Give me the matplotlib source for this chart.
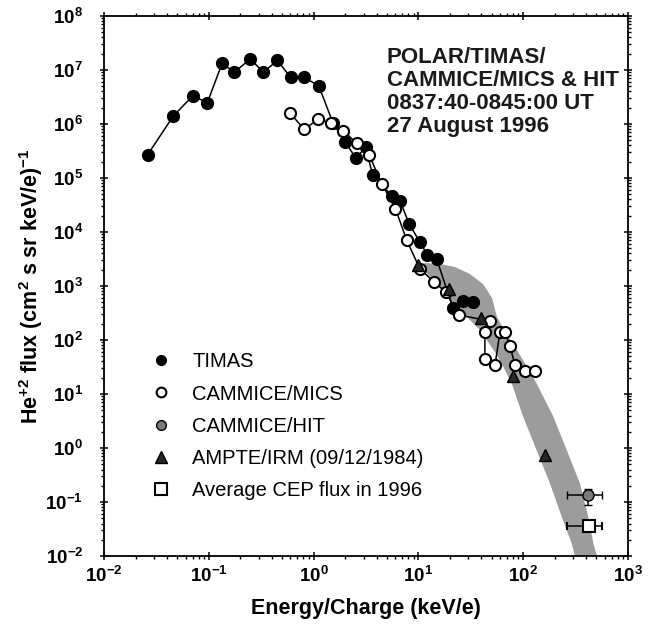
import numpy as np
import matplotlib
matplotlib.use('Agg')
import matplotlib.pyplot as plt
from matplotlib.ticker import LogLocator, NullFormatter
from matplotlib.lines import Line2D

plt.rcParams['font.family'] = ['Liberation Sans', 'DejaVu Sans']
plt.rcParams['mathtext.fontset'] = 'custom'
plt.rcParams['mathtext.rm'] = 'Liberation Sans:bold'
plt.rcParams['mathtext.bf'] = 'Liberation Sans:bold'

# TIMAS (filled circles)
timas_e = [0.0261, 0.0458, 0.070, 0.097, 0.134, 0.175, 0.249, 0.331, 0.451, 0.604, 0.81, 1.12,
           1.53, 2.0, 2.54, 3.14, 3.65, 5.56, 6.67, 8.18, 10.3, 12.2, 15.0, 21.4, 26.8, 33.4]
timas_f = [2.7e5, 1.4e6, 3.3e6, 2.5e6, 1.33e7, 9.1e6, 1.6e7, 9.1e6, 1.5e7, 7.3e6, 7.3e6, 5.1e6,
           1.05e6, 4.7e5, 2.3e5, 3.8e5, 1.14e5, 4.7e4, 3.8e4, 1.4e4, 6.6e3, 3.75e3, 3.1e3, 386, 527, 506]

# CAMMICE/MICS (open circles), in drawing order
mics_e = [0.596, 0.81, 1.11, 1.48, 1.92, 2.59, 3.38, 4.5, 6.04, 7.73, 10.3, 14.0, 18.3, 24.3,
          48.2, 43.1, 43.1, 53.8, 60.1, 67.0, 74.8, 83.6, 103, 130]
mics_f = [1.6e6, 8.0e5, 1.22e6, 1.03e6, 7.4e5, 4.4e5, 2.7e5, 7.7e4, 2.7e4, 7.1e3, 2.1e3, 1.2e3, 768, 290,
          225, 139, 45, 34, 143, 143, 77, 34, 26.4, 27]

# AMPTE/IRM (09/12/1984) triangles
ampte_e = [9.9, 19.6, 39.5, 80, 161]
ampte_f = [2450, 880, 261, 22, 0.74]

# CAMMICE/HIT point with error bars
hit_e, hit_f = 418, 0.135
hit_e_lo, hit_e_hi = 260, 561
hit_f_lo, hit_f_hi = 0.088, 0.172

# Average CEP flux in 1996
cep_e, cep_f = 428, 0.036
cep_e_lo, cep_e_hi = 260, 561

# gray band outline (upper/right edge, then lower/left edge back)
band_e = [11.6, 16.1, 22.3, 31.0, 41.3, 50.4, 56.2, 68.5, 87.3, 109, 134, 194, 260, 348, 418, 467, 506,
          312, 290, 233, 180, 134, 100, 77.6, 67, 56.2, 38.7, 23.3, 15.0, 11.6, 10.3]
band_f = [2670, 2550, 2250, 1670, 1090, 600, 267, 135, 65, 31.6, 15.8, 3.8, 0.92, 0.222, 0.0534, 0.0172, 0.01,
          0.01, 0.0172, 0.0534, 0.222, 0.92, 3.8, 15.8, 27.8, 52.7, 153, 408, 1140, 1820, 2340]

fig = plt.figure(figsize=(6.48, 6.27), dpi=100)
ax = fig.add_axes([0.1605, 0.1132, 0.8086, 0.8613])
ax.set_xscale('log')
ax.set_yscale('log')

ax.fill(band_e, band_f, color='#9c9c9c', lw=0, zorder=1)

ax.plot(timas_e, timas_f, '-o', color='black', mfc='black', mec='black', ms=8.5, lw=1.1, zorder=3)
ax.plot(mics_e, mics_f, '-o', color='black', mfc='white', mec='black', mew=1.5, ms=8, lw=1.1, zorder=4)
ax.plot(ampte_e, ampte_f, '^', ls='none', mfc='#262626', mec='black', ms=9, zorder=5)

ax.errorbar([hit_e], [hit_f], xerr=[[hit_e - hit_e_lo], [hit_e_hi - hit_e]],
            yerr=[[hit_f - hit_f_lo], [hit_f_hi - hit_f]], fmt='o', mfc='#7a7a7a', mec='black',
            ms=8, ecolor='black', elinewidth=1.1, capsize=3, zorder=5)
ax.errorbar([cep_e], [cep_f], xerr=[[cep_e - cep_e_lo], [cep_e_hi - cep_e]], fmt='s',
            mfc='white', mec='black', mew=1.5, ms=9, ecolor='black', elinewidth=1.1, capsize=3, zorder=5)

ax.set_xlim(1e-2, 1e3)
ax.set_ylim(1e-2, 1e8)
ax.xaxis.set_major_locator(LogLocator(base=10, numticks=20))
ax.yaxis.set_major_locator(LogLocator(base=10, numticks=20))
ax.xaxis.set_minor_locator(LogLocator(base=10, subs=np.arange(2, 10), numticks=100))
ax.yaxis.set_minor_locator(LogLocator(base=10, subs=np.arange(2, 10), numticks=100))
ax.xaxis.set_minor_formatter(NullFormatter())
ax.yaxis.set_minor_formatter(NullFormatter())
ax.tick_params(which='major', direction='inout', length=6, width=1.1, top=True, right=True,
               labelsize=13.5)
ax.tick_params(which='minor', direction='out', length=2.5, width=1.0, top=True, right=True)
ax.tick_params(axis='y', which='major', pad=12)
ax.tick_params(axis='x', which='major', pad=4)
for lab in ax.get_xticklabels() + ax.get_yticklabels():
    lab.set_fontweight('bold')
for sp in ax.spines.values():
    sp.set_linewidth(1.3)

ax.set_xlabel('Energy/Charge (keV/e)', fontsize=15.5, fontweight='bold', labelpad=9)
ax.set_ylabel(r'He$^{+2}$ flux (cm$^{2}$ s sr keV/e)$^{-1}$', fontsize=15.5, fontweight='bold', labelpad=0)

ax.text(0.54, 0.943, 'POLAR/TIMAS/\nCAMMICE/MICS & HIT\n0837:40-0845:00 UT\n27 August 1996',
        transform=ax.transAxes, fontsize=16, fontweight='bold', va='top', ha='left',
        linespacing=1.13, color='#1a1a1a')

handles = [
    Line2D([], [], ls='none', marker='o', mfc='black', mec='black', ms=7),
    Line2D([], [], ls='none', marker='o', mfc='white', mec='black', mew=1.5, ms=7),
    Line2D([], [], ls='none', marker='o', mfc='#7a7a7a', mec='black', ms=7),
    Line2D([], [], ls='none', marker='^', mfc='#262626', mec='black', ms=9),
    Line2D([], [], ls='none', marker='s', mfc='white', mec='black', mew=1.5, ms=8),
]
labels = ['TIMAS', 'CAMMICE/MICS', 'CAMMICE/HIT', 'AMPTE/IRM (09/12/1984)', 'Average CEP flux in 1996']
ax.legend(handles, labels, loc='upper left', bbox_to_anchor=(0.07, 0.396), frameon=False,
          fontsize=14.5, handlelength=1.0, handletextpad=1.05, labelspacing=0.66, borderpad=0)

fig.savefig('out.png', dpi=100)
